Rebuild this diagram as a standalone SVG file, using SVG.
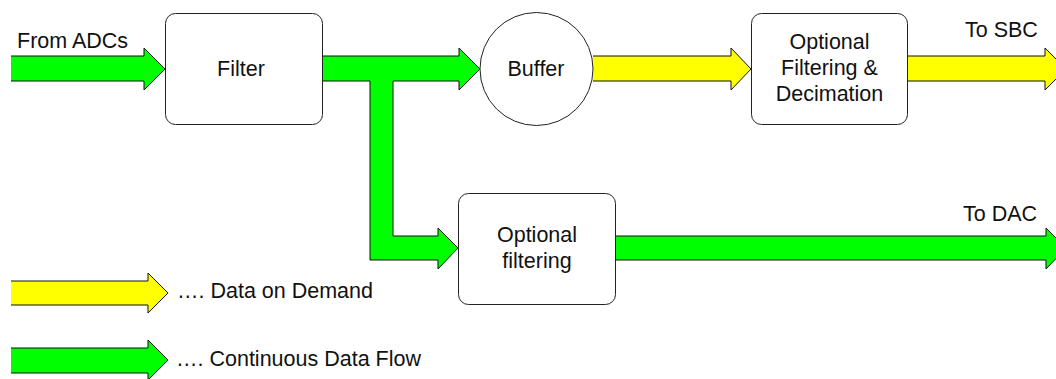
<svg xmlns="http://www.w3.org/2000/svg" width="1056" height="379" viewBox="0 0 1056 379">
<style>
.box{fill:#fff;stroke:#222;stroke-width:1}
.t{font-family:"Liberation Sans",Arial,sans-serif;font-size:21.5px;fill:#111}
.c{text-anchor:middle}
.g{fill:#00ff00}
.y{fill:#ffff00}
.s{fill:none;stroke:#111;stroke-width:1}
</style>
<rect width="1056" height="379" fill="#fff"/>
<g id="connectors">
  <g id="in-adc">
    <path class="g" d="M11,56 H144 V48 L165,69 L144,90 V81 H11 Z"/>
    <path class="s" d="M11,56 H144 V48 L165,69 L144,90 V81 H11"/>
  </g>
  <g id="filter-buffer">
    <path class="g" d="M323,56 H459 V48 L480,69 L459,90 V81 H323 Z"/>
    <path class="g" d="M370,80 H393 V236 H438 V228 L458,248 L438,269 V260 H370 Z"/>
    <path class="s" d="M323,56 H459 V48 L480,69 L459,90 V81 H393 V236 H438 V228 L458,248 L438,269 V260 H370 V81 H323"/>
  </g>
  <g id="buffer-opt">
    <path class="y" d="M593,56 H731 V48 L751,69 L731,90 V81 H593 Z"/>
    <path class="s" d="M593,56 H731 V48 L751,69 L731,90 V81 H593"/>
  </g>
  <g id="to-sbc">
    <path class="y" d="M908,56 H1045 V48 L1066,69 L1045,90 V81 H908 Z"/>
    <path class="s" d="M908,56 H1045 V48 L1066,69 L1045,90 V81 H908"/>
  </g>
  <g id="to-dac">
    <path class="g" d="M616,236 H1046 V228 L1066,248 L1046,269 V260 H616 Z"/>
    <path class="s" d="M616,236 H1046 V228 L1066,248 L1046,269 V260 H616"/>
  </g>
</g>
<g id="filter">
  <rect class="box" x="165.5" y="13.5" width="157" height="111" rx="10"/>
  <text class="t c" x="241" y="76">Filter</text>
</g>
<g id="buffer">
  <circle class="box" cx="536.5" cy="69" r="56.5"/>
  <text class="t c" x="536" y="76">Buffer</text>
</g>
<g id="opt-filter-dec">
  <rect class="box" x="751.5" y="13.5" width="156" height="111" rx="10"/>
  <text class="t c" x="829.5" y="49">Optional</text>
  <text class="t c" x="829.5" y="75">Filtering &amp;</text>
  <text class="t c" x="829.5" y="101">Decimation</text>
</g>
<g id="opt-filtering">
  <rect class="box" x="458.5" y="193.5" width="157" height="111" rx="10"/>
  <text class="t c" x="537" y="242">Optional</text>
  <text class="t c" x="537" y="268">filtering</text>
</g>
<g id="labels">
  <text class="t" x="17" y="48">From ADCs</text>
  <text class="t" x="965" y="37">To SBC</text>
  <text class="t" x="963" y="221">To DAC</text>
</g>
<g id="legend">
  <path class="y" d="M11,281 H148 V273 L168,293 L148,313 V305 H11 Z"/>
  <path class="s" d="M11,281 H148 V273 L168,293 L148,313 V305 H11"/>
  <text class="t" x="177" y="298">…. Data on Demand</text>
  <path class="g" d="M11,348 H148 V340 L168,360 L148,380 V373 H11 Z"/>
  <path class="s" d="M11,348 H148 V340 L168,360 L148,380 V373 H11"/>
  <text class="t" x="176" y="366">…. Continuous Data Flow</text>
</g>
</svg>
